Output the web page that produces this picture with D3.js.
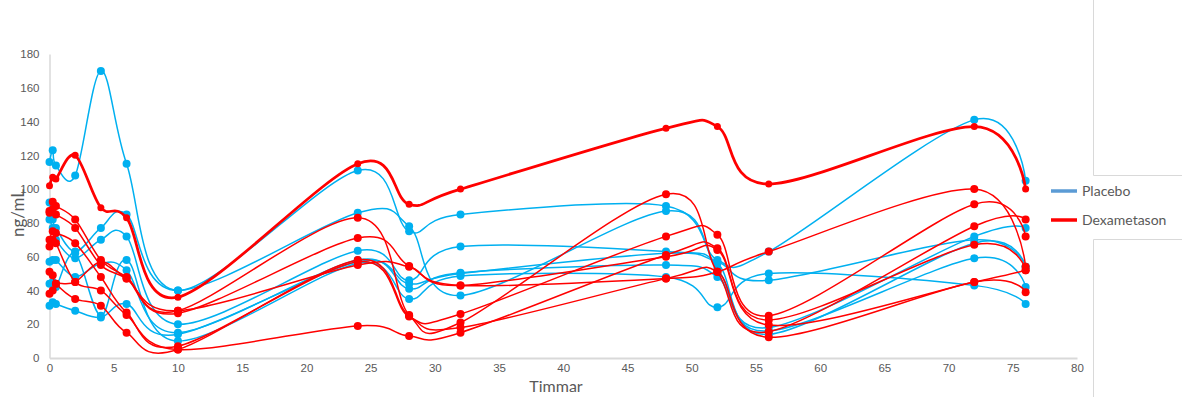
<!DOCTYPE html>
<html>
<head>
<meta charset="utf-8">
<script src="https://cdn.jsdelivr.net/npm/d3@7"></script>
<style>
  body { margin: 0; background: #fff; }
  svg { display: block; font-family: Lato, "Open Sans", sans-serif; }
</style>
</head>
<body>
<div id="chart"></div>
<script>
// sampling times (hours)
const hours = [0, 0.25, 0.5, 2, 4, 6, 10, 24, 28, 32, 48, 52, 56, 72, 76];

// placebo patients (ng/mL)
const placebo1 = [116, 123, 114, 108, 170, 115, 40, 111, 75, 85, 90, 58, 63, 141, 105];
const placebo2 = [92, 82, 77, 63, 77, 85, 40, 86, 78, 37, 87, 53, 18, 72, 77];
const placebo3 = [82, 77, 70, 59, 70, 72, 20, 63.5, 46, 66, 63, 56, 14, 68, 54];
const placebo4 = [57, 58, 58, 48, 56, 52, 15, 58, 41, 50.5, 55, 48, 16, 59, 42];
const placebo5 = [44, 45, 42, 62, 25, 58, 10, 56, 35, 48.5, 48, 30, 50, 43, 32];
const placebo6 = [31, 33, 32, 28, 24, 32, 14, 57, 44, 50, 62, 57, 46, 70, 54];

// dexametason patients (ng/mL)
const dexa1 = [102, 107, 106, 120, 89, 83, 36, 115, 91, 100, 136, 137, 103, 137, 100];
const dexa2 = [87, 92.5, 90, 82, 58, 48, 28, 83, 25.5, 21, 97, 51, 15.6, 78, 82];
const dexa3 = [86, 88, 85, 77, 55, 47, 26.5, 71, 54.5, 43, 47, 51, 63, 100, 54];
const dexa4 = [70, 75, 74, 68, 48, 27, 7, 57, 24.5, 26, 72, 73, 25, 91, 72];
const dexa5 = [66, 70, 68, 45, 40, 25.5, 5, 19, 13, 15, 61, 65, 22.5, 67, 52];
const dexa6 = [51, 49, 44, 35, 31, 15, 5, 58, 25, 18, 47, 51, 12.3, 45, 39];
const dexa7 = [38, 40, 44, 45, 57, 47, 28, 55, 54, 43, 60, 64, 19.5, 45, 52];

const xTicks = [0, 5, 10, 15, 20, 25, 30, 35, 40, 45, 50, 55, 60, 65, 70, 75, 80];
const yTicks = [0, 20, 40, 60, 80, 100, 120, 140, 160, 180];
const legendLabels = ['Placebo', 'Dexametason'];

const BLUE = '#00B0F0';
const RED = '#FF0000';
const GREY = '#D9D9D9';
const TEXT = '#595959';

const width = 1182, height = 397;

const svg = d3.select('#chart').append('svg')
  .attr('width', width)
  .attr('height', height);

const xScale = d3.scaleLinear().domain([0, 80]).range([49.5, 1077]);
const yScale = d3.scaleLinear().domain([0, 180]).range([358, 54]);

// frame remnants of the outer chart border beside the legend
svg.append('path')
  .attr('d', 'M1093.5,0V175.5H1182M1182,239.5H1093.5V397')
  .attr('fill', 'none')
  .attr('stroke', GREY);

// Y axis
const yAxis = svg.append('g')
  .attr('transform', `translate(${xScale(0)},0)`)
  .call(d3.axisLeft(yScale).tickValues(yTicks).tickSize(0).tickPadding(10));
yAxis.select('.domain').attr('stroke', GREY).attr('stroke-width', 1.5);
yAxis.selectAll('text').attr('fill', TEXT).style('font-size', '11.5px');

// X axis
const xAxis = svg.append('g')
  .attr('transform', `translate(0,${yScale(0)})`)
  .call(d3.axisBottom(xScale).tickValues(xTicks).tickSize(0).tickPadding(6));
xAxis.select('.domain').attr('stroke', GREY).attr('stroke-width', 2);
xAxis.selectAll('text').attr('fill', TEXT).style('font-size', '11.5px');

svg.append('text')
  .attr('x', 556)
  .attr('y', 392)
  .attr('text-anchor', 'middle')
  .attr('fill', TEXT)
  .style('font-size', '16px')
  .text('Timmar');

svg.append('text')
  .attr('transform', 'translate(24,213) rotate(-90)')
  .attr('text-anchor', 'middle')
  .attr('fill', TEXT)
  .style('font-size', '17px')
  .text('ng/mL');

const line = d3.line()
  .x((d) => xScale(d[0]))
  .y((d) => yScale(d[1]))
  .curve(d3.curveCardinal.tension(0));

const drawSeries = (values, color, strokeWidth, r) => {
  const pts = hours.map((h, i) => [h, values[i]]).filter((d) => d[1] != null);
  svg.append('path')
    .datum(pts)
    .attr('fill', 'none')
    .attr('stroke', color)
    .attr('stroke-width', strokeWidth)
    .attr('d', line);
  svg.append('g')
    .selectAll('circle')
    .data(pts)
    .enter()
    .append('circle')
    .attr('cx', (d) => xScale(d[0]))
    .attr('cy', (d) => yScale(d[1]))
    .attr('r', r)
    .attr('fill', color);
};

[placebo1, placebo2, placebo3, placebo4, placebo5, placebo6]
  .forEach((s) => drawSeries(s, BLUE, 1.5, 4));
[dexa2, dexa3, dexa4, dexa5, dexa6, dexa7]
  .forEach((s) => drawSeries(s, RED, 1.5, 4));
drawSeries(dexa1, RED, 2.75, 3.5);

// Legend
const legendColors = ['#5B9BD5', RED];
const legend = svg.append('g');
legendLabels.forEach((label, i) => {
  const ly = 191 + i * 29;
  legend.append('line')
    .attr('x1', 1051).attr('x2', 1077)
    .attr('y1', ly).attr('y2', ly)
    .attr('stroke', legendColors[i])
    .attr('stroke-width', 3.5);
  legend.append('text')
    .attr('x', 1082)
    .attr('y', ly)
    .attr('dy', '0.35em')
    .attr('fill', TEXT)
    .style('font-size', '14px')
    .text(label);
});
</script>
</body>
</html>
